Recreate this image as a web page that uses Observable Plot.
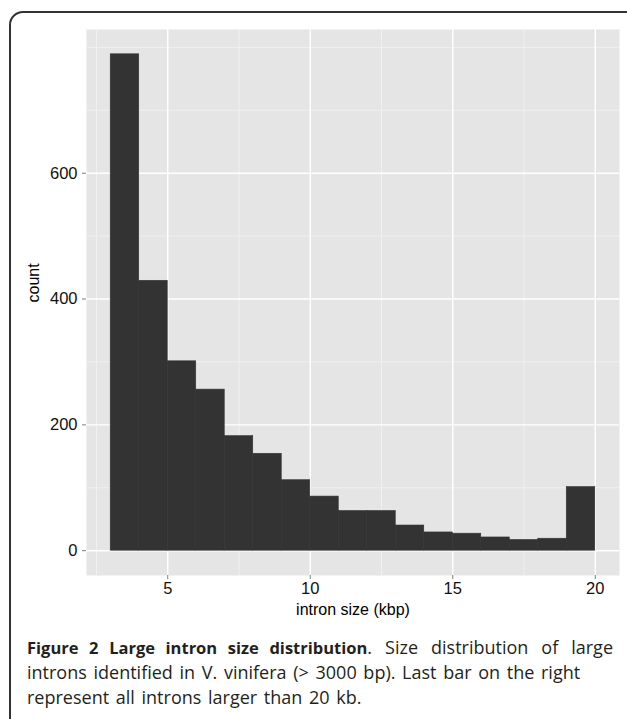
<!DOCTYPE html>
<html>
<head>
<meta charset="utf-8">
<script src="https://cdn.jsdelivr.net/npm/d3@7"></script>
<script src="https://cdn.jsdelivr.net/npm/@observablehq/plot@0.6"></script>
<style>
  html, body { margin: 0; padding: 0; background: #fff; width: 627px; height: 719px; overflow: hidden; }
  #wrap { position: relative; width: 627px; height: 719px; }
  #border { position: absolute; left: 9px; top: 11px; width: 640px; height: 780px; border: 2px solid #333; border-radius: 14px; box-sizing: border-box; }
  #chart { position: absolute; left: 0; top: 0; }
  #caption { position: absolute; left: 27px; top: 635px; width: 586px; font-family: "Open Sans", "Noto Sans", sans-serif; font-size: 18px; line-height: 25px; color: #231f20; word-spacing: 2px; }
  #caption b { font-size: 16.5px; word-spacing: 0; }
  #caption .l1 { text-align: justify; text-align-last: justify; }
  #caption .ln { white-space: nowrap; }
</style>
</head>
<body>
<div id="wrap">
  <div id="border"></div>
  <div id="chart"></div>
  <div id="caption">
    <div class="l1"><b>Figure 2 Large intron size distribution</b>. Size distribution of large</div>
    <div class="ln">introns identified in V. vinifera (&gt; 3000 bp). Last bar on the right</div>
    <div class="ln">represent all introns larger than 20 kb.</div>
  </div>
</div>
<script>
// Histogram bins (kbp) and counts
const binStart = [3, 4, 5, 6, 7, 8, 9, 10, 11, 12, 13, 14, 15, 16, 17, 18, 19];
const binEnd   = [4, 5, 6, 7, 8, 9, 10, 11, 12, 13, 14, 15, 16, 17, 18, 19, 20];
const counts   = [789, 429, 301, 256, 182, 154, 112, 86, 63, 63, 40, 29, 27, 21, 17, 19, 101];

const xTicks = [5, 10, 15, 20];
const yTicks = [0, 200, 400, 600];
const xMinor = [2.5, 7.5, 12.5, 17.5];
const yMinor = [100, 300, 500, 700, 800];
const xTitle = "intron size (kbp)";
const yTitle = "count";

const bins = binStart.map((s, i) => ({x1: s, x2: binEnd[i], count: counts[i]}));

const W = 627, H = 625;
const chart = Plot.plot({
  width: W,
  height: H,
  marginLeft: 86,
  marginRight: 8,
  marginTop: 29,
  marginBottom: 50,
  style: {fontFamily: "'Liberation Sans', Arial, sans-serif", fontSize: "16px", color: "#111", background: "transparent"},
  x: {domain: [2.15, 20.85]},
  y: {domain: [-39.45, 828.45]},
  marks: [
    Plot.frame({fill: "#e5e5e5", stroke: null}),
    Plot.ruleX(xMinor, {stroke: "#f0f0f0", strokeWidth: 1}),
    Plot.ruleY(yMinor, {stroke: "#f0f0f0", strokeWidth: 1}),
    Plot.ruleX(xTicks, {stroke: "#ffffff", strokeWidth: 1.4}),
    Plot.ruleY(yTicks, {stroke: "#ffffff", strokeWidth: 1.4}),
    Plot.rectY(bins, {x1: "x1", x2: "x2", y1: 0, y2: "count", fill: "#333333", stroke: "#333333", strokeWidth: 0.6, inset: 0}),
    Plot.axisX({ticks: xTicks, tickSize: 4, tickPadding: 3, stroke: "#7f7f7f", fill: "#111", fontSize: 16.5, label: null, tickFormat: d => String(d)}),
    Plot.axisY({ticks: yTicks, tickSize: 4, tickPadding: 5, stroke: "#7f7f7f", fill: "#111", fontSize: 16.5, label: null, tickFormat: d => String(d)}),
    Plot.text([xTitle], {frameAnchor: "bottom", dy: 39, text: d => d, fontSize: 16, fill: "#000"}),
    Plot.text([yTitle], {frameAnchor: "left", dx: -53, rotate: -90, text: d => d, fontSize: 16, fill: "#000"})
  ]
});
document.getElementById("chart").appendChild(chart);
</script>
</body>
</html>
